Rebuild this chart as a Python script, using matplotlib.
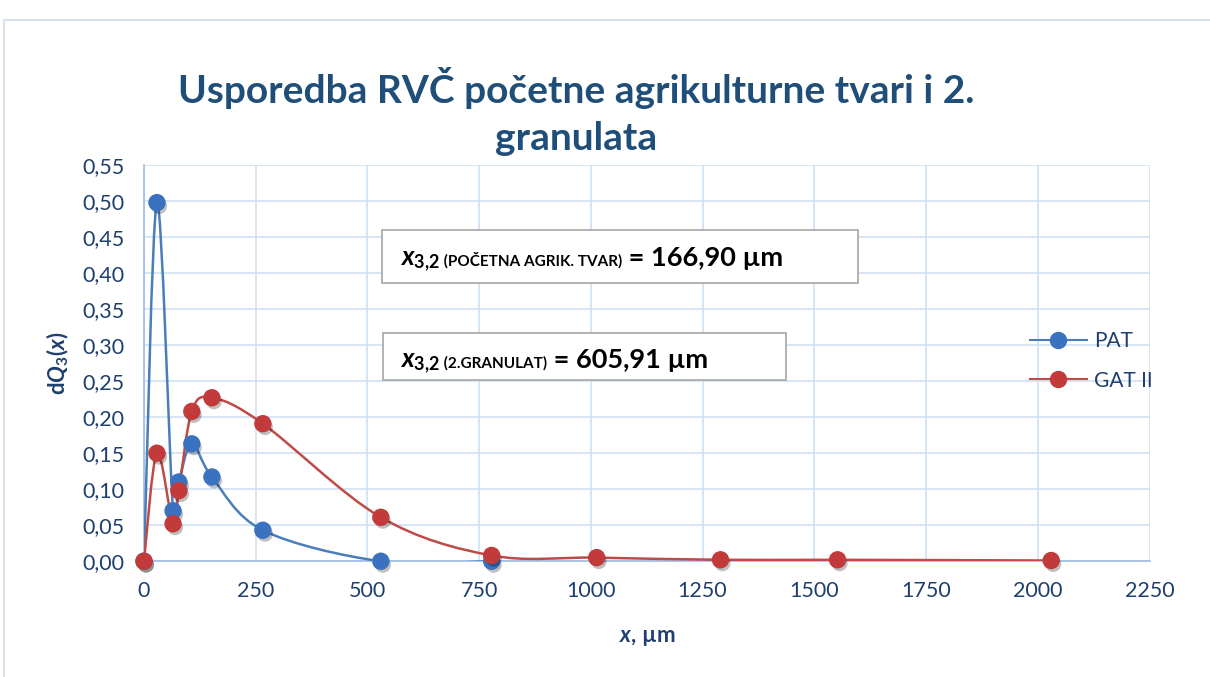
import numpy as np
import matplotlib
matplotlib.use("Agg")
import matplotlib.pyplot as plt
import matplotlib.patheffects as pe
from matplotlib.path import Path
from matplotlib.patches import PathPatch, Rectangle
from matplotlib.offsetbox import TextArea, HPacker, AnnotationBbox
from matplotlib.lines import Line2D
from matplotlib.ticker import FuncFormatter, MultipleLocator

plt.rcParams['font.family'] = ['Lato', 'DejaVu Sans']
plt.rcParams['mathtext.fontset'] = 'custom'
plt.rcParams['mathtext.rm'] = 'Lato'
plt.rcParams['mathtext.it'] = 'Lato:slant=italic'
plt.rcParams['mathtext.bf'] = 'Lato:weight=bold'
plt.rcParams['mathtext.bfit'] = 'Lato:weight=bold:slant=italic'

# Podaci
x_pat = [0, 29, 65, 78, 107, 152, 266, 530, 778]
y_pat = [0.0, 0.498, 0.070, 0.110, 0.163, 0.117, 0.043, 0.0, 0.0]

x_gat = [0, 29, 65, 78, 107, 152, 266, 530, 778, 1013, 1290, 1552, 2030]
y_gat = [0.0, 0.150, 0.052, 0.098, 0.208, 0.227, 0.191, 0.061, 0.008, 0.005, 0.002, 0.002, 0.001]

naslov = "Usporedba RVČ početne agrikulturne tvari i 2.\ngranulata"
x32_pat = "166,90 µm"
x32_gat = "605,91 µm"

c_pat_line = '#4A7EBB'
c_pat_mark = '#3A72C0'
c_gat_line = '#BE4B48'
c_gat_mark = '#C23A3A'
tekst = '#1F3F6E'


def glatko(x, y):
    # Bezier kao "smoothed line" u Excelu
    p = np.column_stack([x, y]).astype(float)
    n = len(p)
    verts = [p[0]]
    codes = [Path.MOVETO]
    for i in range(n - 1):
        p0 = p[i - 1] if i > 0 else p[i]
        p3 = p[i + 2] if i + 2 < n else p[i + 1]
        c1 = p[i] + (p[i + 1] - p0) / 6
        c2 = p[i + 1] - (p3 - p[i]) / 6
        verts += [c1, c2, p[i + 1]]
        codes += [Path.CURVE4] * 3
    return Path(verts, codes)


fig = plt.figure(figsize=(12.1, 6.77), dpi=100)
fig.patches.append(Rectangle((3.5 / 1210, -0.05), 1.2, 1.035 - 10 / 677, transform=fig.transFigure,
                             fill=False, edgecolor='#D3DDE9', lw=1.2))

ax = fig.add_axes([0.119, 0.171, 0.831, 0.585])

sjena = [pe.SimplePatchShadow(offset=(1.5, -2.5), alpha=0.25, shadow_rgbFace='black'), pe.Normal()]

ax.add_patch(PathPatch(glatko(x_pat, y_pat), fill=False, edgecolor=c_pat_line, lw=1.8, zorder=3))
ax.add_patch(PathPatch(glatko(x_gat, y_gat), fill=False, edgecolor=c_gat_line, lw=1.8, zorder=4))
ax.plot(x_pat, y_pat, 'o', ms=11.5, color=c_pat_mark, mec=c_pat_mark, zorder=5,
        clip_on=False, path_effects=sjena)
ax.plot(x_gat, y_gat, 'o', ms=11.5, color=c_gat_mark, mec=c_gat_mark, zorder=6,
        clip_on=False, path_effects=sjena)

ax.set_xlim(0, 2250)
ax.set_ylim(0, 0.55)
ax.xaxis.set_major_locator(MultipleLocator(250))
ax.yaxis.set_major_locator(MultipleLocator(0.05))
ax.yaxis.set_major_formatter(FuncFormatter(lambda v, p: f"{v:.2f}".replace('.', ',')))
ax.tick_params(length=0, labelsize=15.5, labelcolor=tekst)
ax.tick_params(axis='y', pad=14)
ax.tick_params(axis='x', pad=14)
ax.grid(True, color='#D0E0F2', lw=1.2)
ax.set_axisbelow(True)
for s in ['top', 'right']:
    ax.spines[s].set_visible(False)
for s in ['left', 'bottom']:
    ax.spines[s].set_color('#9DBBE3')
    ax.spines[s].set_linewidth(1.2)

ax.set_ylabel(r"d$\mathbfit{Q}_{\mathbf{3}}$($\mathbfit{x}$)", fontsize=16, fontweight='bold',
              color=tekst)
ax.yaxis.set_label_coords(-0.073, 0.5)
ax.set_xlabel(r"$\mathbfit{x}$, µm", fontsize=16, fontweight='bold', color=tekst)
ax.xaxis.set_label_coords(0.5, -0.165)

fig.text(0.476, 0.835, naslov, ha='center', va='center', fontsize=28, fontweight='bold',
         color='#1F4E79', linespacing=1.42)

# okviri s x3,2
fig.patches.append(Rectangle((382 / 1210, 1 - 283 / 677), 476 / 1210, 53 / 677,
                             transform=fig.transFigure, facecolor='white', edgecolor='#A6A6A6', lw=1.2, zorder=8))
fig.patches.append(Rectangle((383 / 1210, 1 - 380 / 677), 403 / 1210, 47 / 677,
                             transform=fig.transFigure, facecolor='white', edgecolor='#A6A6A6', lw=1.2, zorder=8))


def oznaka(opis, vrijednost, xy):
    dijelovi = [
        TextArea(r"$\mathbfit{x}_{\mathbf{3{,}2}}$", textprops=dict(fontsize=18.5, color='black')),
        TextArea(" " + opis, textprops=dict(fontsize=11, fontweight='bold', color='black')),
        TextArea(" = " + vrijednost, textprops=dict(fontsize=19.5, fontweight='bold', color='black')),
    ]
    box = HPacker(children=dijelovi, align='baseline', pad=0, sep=0)
    ab = AnnotationBbox(box, xy, xycoords='figure pixels', box_alignment=(0, 0.5),
                        frameon=False, zorder=9)
    fig.add_artist(ab)


oznaka("(POČETNA AGRIK. TVAR)", x32_pat, (400, 677 - 260))
oznaka("(2.GRANULAT)", x32_gat, (400, 677 - 362))

h = [Line2D([], [], color=c_pat_line, lw=1.5, marker='o', ms=11.5, mfc=c_pat_mark, mec=c_pat_mark),
     Line2D([], [], color=c_gat_line, lw=1.5, marker='o', ms=11.5, mfc=c_gat_mark, mec=c_gat_mark)]
fig.legend(h, ['PAT', 'GAT II'], loc='center left', bbox_to_anchor=(0.836, 0.467),
           frameon=False, fontsize=15, labelcolor=tekst, handlelength=2.7, labelspacing=0.95,
           handletextpad=0.35)

fig.savefig('out.png', dpi=100)
